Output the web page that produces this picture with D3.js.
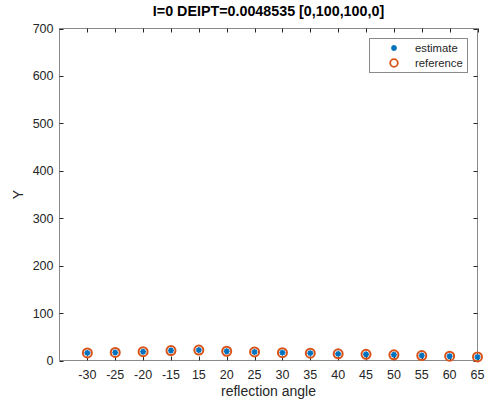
<!DOCTYPE html>
<html lang="en">
<head>
<meta charset="UTF-8">
<title>reflection angle</title>
<style>
  body { margin: 0; background: #fff; }
  text { font-family: "Liberation Sans", Arial, sans-serif; }
</style>
</head>
<body>
<svg width="487" height="401"></svg>
<script src="https://d3js.org/d3.v7.min.js"></script>
<script>
var angles = ["-30","-25","-20","-15","15","20","25","30","35","40","45","50","55","60","65"];
var estimate  = [16, 17, 18.5, 21, 22, 19.5, 18, 16.5, 15.5, 14, 13, 12, 10.5, 9, 7.5];
var reference = [16, 17, 18.5, 21, 22, 19.5, 18, 16.5, 15.5, 14, 13, 12, 10.5, 9, 7.5];
var yTicks = [0, 100, 200, 300, 400, 500, 600, 700];
var titleText = "I=0 DEIPT=0.0048535 [0,100,100,0]";

var svg = d3.select("svg");
// plot box edges (window.top is reserved, so use other names)
var boxL = 59.5, boxR = 477.5, boxT = 28.5, boxB = 360.5;
var axisColor = "#8a8a8a", textColor = "#262626";

var x = d3.scaleLinear().domain([0, angles.length]).range([boxL, boxR]);
var y = d3.scaleLinear().domain([0, 700]).range([boxB, boxT]);

var g = svg.append("g");

// box
g.append("rect")
  .attr("x", boxL).attr("y", boxT)
  .attr("width", boxR - boxL).attr("height", boxB - boxT)
  .attr("fill", "none").attr("stroke", axisColor).attr("stroke-width", 1);

var tl = 4;
// x ticks (bottom and top, inward)
angles.forEach(function(a, i) {
  var px = Math.round(x(i + 1)) + 0.5;
  g.append("line").attr("x1", px).attr("x2", px).attr("y1", boxB).attr("y2", boxB - tl)
    .attr("stroke", textColor).attr("stroke-width", 1);
  g.append("line").attr("x1", px).attr("x2", px).attr("y1", boxT).attr("y2", boxT + tl)
    .attr("stroke", textColor).attr("stroke-width", 1);
  g.append("text").attr("x", x(i + 1)).attr("y", 378.5)
    .attr("text-anchor", "middle").attr("font-size", 12.5).attr("fill", textColor)
    .text(a);
});

// y ticks (left and right, inward)
yTicks.forEach(function(v) {
  var py = Math.round(y(v)) + 0.5;
  g.append("line").attr("x1", boxL).attr("x2", boxL + tl).attr("y1", py).attr("y2", py)
    .attr("stroke", textColor).attr("stroke-width", 1);
  g.append("line").attr("x1", boxR).attr("x2", boxR - tl).attr("y1", py).attr("y2", py)
    .attr("stroke", textColor).attr("stroke-width", 1);
  g.append("text").attr("x", boxL - 6).attr("y", y(v) + 4.5)
    .attr("text-anchor", "end").attr("font-size", 12.5).attr("fill", textColor)
    .text(v);
});

// labels
svg.append("text").attr("x", (boxL + boxR) / 2).attr("y", 396)
  .attr("text-anchor", "middle").attr("font-size", 14).attr("fill", textColor)
  .text("reflection angle");
svg.append("text").attr("transform", "translate(23," + ((boxT + boxB) / 2) + ") rotate(-90)")
  .attr("text-anchor", "middle").attr("font-size", 14).attr("fill", textColor)
  .text("Y");
svg.append("text").attr("x", (boxL + boxR) / 2).attr("y", 16)
  .attr("text-anchor", "middle").attr("font-size", 14.3).attr("font-weight", "bold").attr("fill", "#000")
  .text(titleText);

// asterisk path
function star(r) {
  var p = "";
  for (var k = 0; k < 4; k++) {
    var ang = k * Math.PI / 4;
    var dx = r * Math.cos(ang), dy = r * Math.sin(ang);
    p += "M" + (-dx) + "," + (-dy) + "L" + dx + "," + dy;
  }
  return p;
}

// reference circles
g.selectAll(".ref").data(reference).enter().append("circle")
  .attr("cx", function(d, i) { return x(i + 1); })
  .attr("cy", function(d) { return y(d); })
  .attr("r", 4.5)
  .attr("fill", "none").attr("stroke", "#D95319").attr("stroke-width", 2);

// estimate stars
g.selectAll(".est").data(estimate).enter().append("path")
  .attr("transform", function(d, i) { return "translate(" + x(i + 1) + "," + y(d) + ")"; })
  .attr("d", star(3))
  .attr("stroke", "#0072BD").attr("stroke-width", 1.6).attr("fill", "none");

// legend
var lg = svg.append("g").attr("transform", "translate(369.5,38.5)");
lg.append("rect").attr("width", 98).attr("height", 34)
  .attr("fill", "#fff").attr("stroke", axisColor).attr("stroke-width", 1);
lg.append("path").attr("transform", "translate(24.5,9.5)").attr("d", star(3))
  .attr("stroke", "#0072BD").attr("stroke-width", 1.6);
lg.append("circle").attr("cx", 24.5).attr("cy", 24.5).attr("r", 3.8)
  .attr("fill", "none").attr("stroke", "#D95319").attr("stroke-width", 1.8);
lg.append("text").attr("x", 45.5).attr("y", 13.5).attr("font-size", 11.3).attr("fill", textColor).text("estimate");
lg.append("text").attr("x", 45.5).attr("y", 28.5).attr("font-size", 11.3).attr("fill", textColor).text("reference");
</script>
</body>
</html>
